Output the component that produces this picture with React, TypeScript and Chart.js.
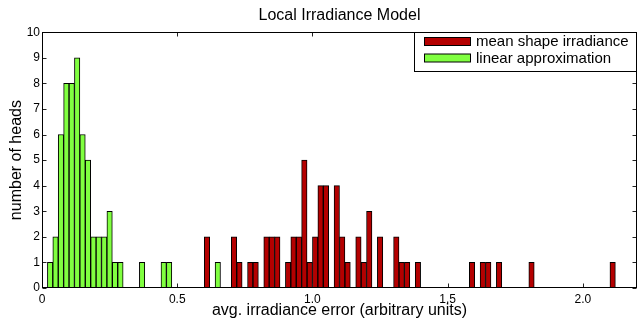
import React, { useEffect, useRef } from "react";
import { Chart, registerables } from "chart.js";
Chart.register(...registerables);

const chartTitle = "Local Irradiance Model";
const xTitle = "avg. irradiance error (arbitrary units)";
const yTitle = "number of heads";
const seriesNames = ["mean shape irradiance", "linear approximation"];

// bin centres (arbitrary units) and counts
const redBins = [0.61, 0.71, 0.73, 0.77, 0.79, 0.83, 0.85, 0.87, 0.91, 0.93, 0.95, 0.97, 0.99, 1.01, 1.03, 1.05, 1.09, 1.11, 1.13, 1.17, 1.19, 1.21, 1.25, 1.31, 1.33, 1.35, 1.39, 1.59, 1.63, 1.65, 1.69, 1.81, 2.11];
const redCounts = [2, 2, 1, 1, 1, 2, 2, 2, 1, 2, 2, 5, 1, 2, 4, 4, 4, 2, 1, 2, 1, 3, 2, 2, 1, 1, 1, 1, 1, 1, 1, 1, 1];
const greenBins = [0.03, 0.05, 0.07, 0.09, 0.11, 0.13, 0.15, 0.17, 0.19, 0.21, 0.23, 0.25, 0.27, 0.29, 0.37, 0.45, 0.47, 0.65];
const greenCounts = [1, 2, 6, 8, 8, 9, 6, 5, 2, 2, 2, 3, 1, 1, 1, 1, 1, 1];

const xMin = 0;
const xMax = 2.2;
const xStep = 0.5;
const yMin = 0;
const yMax = 10;
const yStep = 1;

const RED = "#b40000";
const GREEN = "#80ff40";
const FONT = "'Liberation Sans', Arial, Helvetica, sans-serif";

const framePlugin = {
  id: "matlabFrame",
  afterDatasetsDraw(chart: any) {
    const { ctx, chartArea } = chart;
    const { left, right, top, bottom } = chartArea;
    const xs = chart.scales.x;
    const ys = chart.scales.y;
    ctx.save();
    ctx.strokeStyle = "#222";
    ctx.lineWidth = 1;
    const L = Math.round(left) + 0.5;
    const R = Math.round(right) - 0.5;
    const T = Math.round(top) + 0.5;
    const B = Math.round(bottom) - 0.5;
    ctx.beginPath();
    xs.ticks.forEach((t: any) => {
      const px = Math.round(xs.getPixelForValue(t.value)) + 0.5;
      ctx.moveTo(px, B);
      ctx.lineTo(px, B - 4);
      ctx.moveTo(px, T);
      ctx.lineTo(px, T + 4);
    });
    ys.ticks.forEach((t: any) => {
      const py = Math.round(ys.getPixelForValue(t.value)) + 0.5;
      ctx.moveTo(L, py);
      ctx.lineTo(L + 4, py);
      ctx.moveTo(R, py);
      ctx.lineTo(R - 4, py);
    });
    ctx.stroke();
    ctx.strokeStyle = "#000";
    ctx.strokeRect(L, T, R - L, B - T);
    ctx.restore();
  },
  afterDraw(chart: any) {
    const { ctx, chartArea } = chart;
    const boxR = Math.round(chartArea.right) - 0.5;
    const boxT = Math.round(chartArea.top) + 0.5;
    const boxL = 414.5;
    const boxB = 71.5;
    ctx.save();
    ctx.fillStyle = "#fff";
    ctx.fillRect(boxL, boxT, boxR - boxL, boxB - boxT);
    ctx.strokeStyle = "#000";
    ctx.lineWidth = 1;
    ctx.strokeRect(boxL, boxT, boxR - boxL, boxB - boxT);
    const rows = [41.5, 58];
    chart.data.datasets.forEach((ds: any, i: number) => {
      const cy = rows[i];
      ctx.fillStyle = ds.backgroundColor;
      ctx.fillRect(424.5, cy - 4, 46, 8);
      ctx.strokeStyle = "#000";
      ctx.strokeRect(424.5, cy - 4, 46, 8);
      ctx.fillStyle = "#000";
      ctx.font = `15px ${FONT}`;
      ctx.textBaseline = "middle";
      ctx.textAlign = "left";
      ctx.fillText(ds.label, 476, cy + 0.5);
    });
    ctx.restore();
  },
};

export default function App() {
  const ref = useRef<HTMLCanvasElement | null>(null);
  useEffect(() => {
    if (!ref.current) return;
    const redData = redBins.map((x, i) => ({ x, y: redCounts[i] }));
    const greenData = greenBins.map((x, i) => ({ x, y: greenCounts[i] }));
    const chart = new Chart(ref.current, {
      type: "bar",
      data: {
        datasets: [
          {
            label: seriesNames[0],
            data: redData,
            backgroundColor: RED,
            borderColor: "#000",
            borderWidth: 1,
            grouped: false,
            barPercentage: 1,
            categoryPercentage: 1,
          } as any,
          {
            label: seriesNames[1],
            data: greenData,
            backgroundColor: GREEN,
            borderColor: "#000",
            borderWidth: 1,
            grouped: false,
            barPercentage: 1,
            categoryPercentage: 1,
          } as any,
        ],
      },
      options: {
        animation: false,
        responsive: false,
        devicePixelRatio: 1,
        layout: { padding: { top: 0, right: 1, left: 0, bottom: 0 } },
        plugins: {
          legend: { display: false },
          tooltip: { enabled: false },
          title: {
            display: true,
            text: chartTitle,
            fullSize: false,
            color: "#000",
            font: { family: FONT, size: 16, weight: "normal" },
            padding: { top: 6, bottom: 7 },
          },
        },
        scales: {
          x: {
            type: "linear",
            min: xMin,
            max: xMax,
            offset: false,
            grid: { display: false, drawTicks: false },
            border: { display: false },
            ticks: {
              stepSize: xStep,
              includeBounds: false,
              color: "#000",
              font: { family: FONT, size: 12 },
              padding: 4,
              maxRotation: 0,
            },
            title: {
              display: true,
              text: xTitle,
              color: "#000",
              font: { family: FONT, size: 16 },
              padding: { top: 0, bottom: 2 },
            },
            afterFit: (s: any) => {
              s.height = 34;
            },
          },
          y: {
            min: yMin,
            max: yMax,
            grid: { display: false, drawTicks: false },
            border: { display: false },
            ticks: {
              stepSize: yStep,
              color: "#000",
              font: { family: FONT, size: 12 },
              padding: 2,
            },
            title: {
              display: true,
              text: yTitle,
              color: "#000",
              font: { family: FONT, size: 16 },
              padding: { top: 7, bottom: 0 },
            },
            afterFit: (s: any) => {
              s.width = 42;
            },
          },
        },
      } as any,
      plugins: [framePlugin],
    });
    return () => chart.destroy();
  }, []);
  return (
    <div style={{ position: "fixed", left: 0, top: 0, width: 638, height: 322, background: "#fff" }}>
      <canvas ref={ref} width={638} height={322} style={{ width: 638, height: 322, display: "block" }} />
    </div>
  );
}
